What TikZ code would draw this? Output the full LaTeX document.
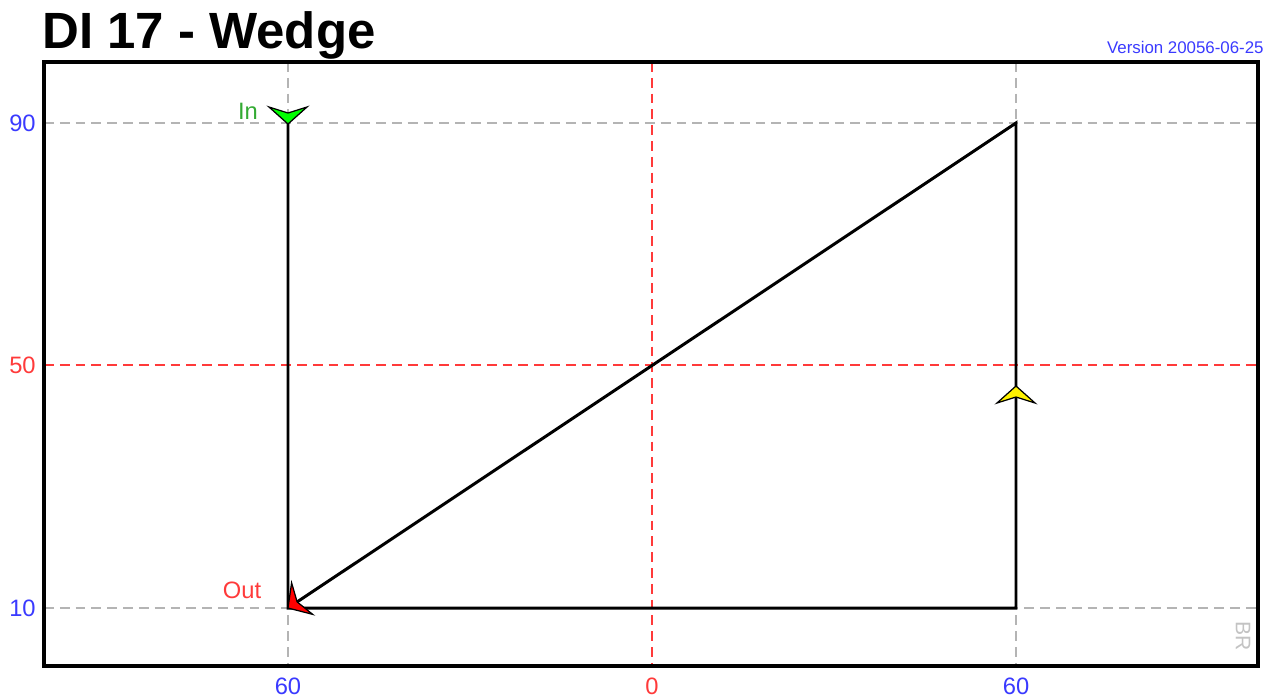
\documentclass[tikz,border=0pt]{standalone}
\usepackage{fontspec}
\setmainfont{Liberation Sans}
\usetikzlibrary{positioning}

\definecolor{axisblue}{HTML}{3A3AFF}
\definecolor{axisred}{HTML}{FF3A3A}
\definecolor{ingreen}{HTML}{33AA33}
\definecolor{gridgrey}{HTML}{B4B4B4}

\begin{document}
\begin{tikzpicture}[x=0.02cm,y=-0.02cm]

\def\xl{288}
\def\xm{652}
\def\xr{1016}
\def\yt{123}
\def\ym{365}
\def\yb{608}

\tikzset{
    gridline/.style={
        line width=0.85pt,
        dash pattern=on 5.6pt off 3.4pt
    },
    wedgeline/.style={
        line width=1.7pt,
        line join=miter
    },
    axislabel/.style={
        font=\fontsize{13.5}{15}\selectfont,
        inner sep=0pt
    },
    pics/dirmark/.style={
        code={
            \draw[black,line width=0.7pt,fill=#1]
                (0,0) -- (-17,-19) -- (-11,0) -- (-17,19) -- cycle;
        }
    }
}

\useasboundingbox (0,0) rectangle (1276,698);

% Grid lines
\foreach \gx in {\xl,\xr}{
    \draw[gridline,gridgrey] (\gx,62) -- (\gx,666);
}
\foreach \gy in {\yt,\yb}{
    \draw[gridline,gridgrey] (44,\gy) -- (1258,\gy);
}
\draw[gridline,axisred] (\xm,62) -- (\xm,666);
\draw[gridline,axisred] (44,\ym) -- (1258,\ym);

% Frame
\draw[line width=2.3pt] (44,62) rectangle (1258,666);

% Title and version
\node[anchor=base west,inner sep=0pt,font=\fontsize{29}{33}\selectfont\bfseries]
    (title) at (42,48) {DI 17 - Wedge};
\node[anchor=base east,inner sep=0pt,text=axisblue,font=\fontsize{9.6}{11}\selectfont]
    (version) at (1264,53) {Version 20056-06-25};

% Axis labels
\node[axislabel,anchor=east,text=axisblue] (lab90) at (36,\yt) {90};
\node[axislabel,anchor=east,text=axisred]  (lab50) at (36,\ym) {50};
\node[axislabel,anchor=east,text=axisblue] (lab10) at (36,\yb) {10};

\node[axislabel,text=axisblue] (labl) at (\xl,686) {60};
\node[axislabel,text=axisred]  (labm) at (\xm,686) {0};
\node[axislabel,text=axisblue] (labr) at (\xr,686) {60};

% Wedge path
\coordinate (in)  at (\xl,\yt);
\coordinate (out) at (\xl,\yb);
\coordinate (br)  at (\xr,\yb);
\coordinate (tr)  at (\xr,\yt);

\draw[wedgeline] (in) -- (out) -- (br) -- (tr) -- (out);

% Direction marks
\pic[rotate=-90]    at (\xl,124) {dirmark=green};
\pic[rotate=90]     at (\xr,386) {dirmark=yellow};
\pic[rotate=213.7]  at (out)     {dirmark=red};

\node[axislabel,text=ingreen] (inlab)  at (248,111) {In};
\node[axislabel,text=axisred] (outlab) at (242,590) {Out};

% Corner mark
\node[rotate=-90,text=gridgrey!80,inner sep=0pt,font=\fontsize{12}{13}\selectfont]
    (brmark) at (1243,636) {BR};

\end{tikzpicture}
\end{document}
